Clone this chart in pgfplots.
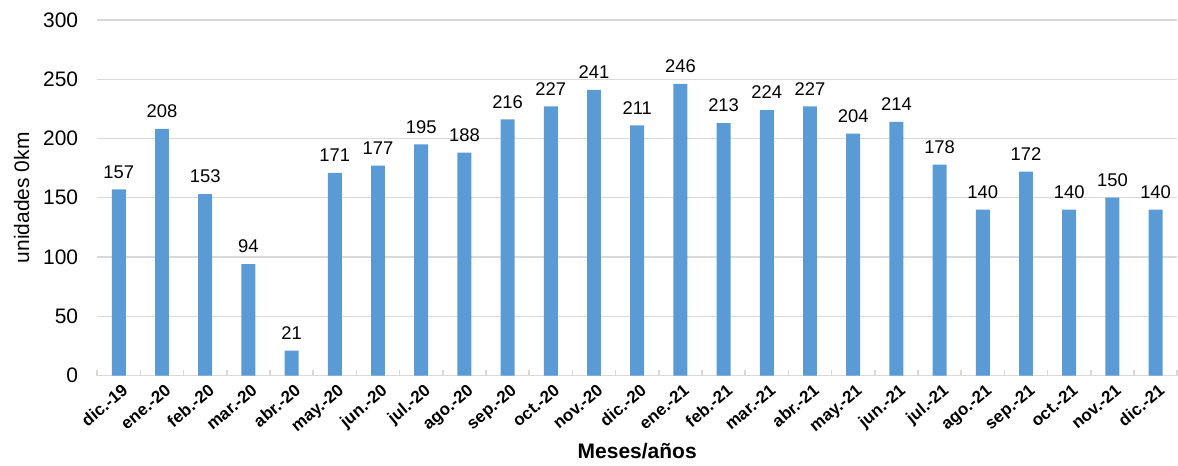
\documentclass[border=0pt]{standalone}
\usepackage{pgfplots}
\pgfplotsset{compat=1.18}
\usepackage{fontspec}
\setmainfont{Liberation Sans}
\definecolor{barblue}{HTML}{5B9BD5}
\definecolor{gridgray}{HTML}{D9D9D9}
\begin{document}
\begin{tikzpicture}
\begin{axis}[
  scale only axis,
  width=540.5pt, height=178pt,
  xmin=-0.5, xmax=24.5,
  ymin=0, ymax=300,
  ytick={0,50,...,300},
  xtick={0,...,24},
  xticklabels={dic.-19,ene.-20,feb.-20,mar.-20,abr.-20,may.-20,jun.-20,jul.-20,ago.-20,sep.-20,oct.-20,nov.-20,dic.-20,ene.-21,feb.-21,mar.-21,abr.-21,may.-21,jun.-21,jul.-21,ago.-21,sep.-21,oct.-21,nov.-21,dic.-21},
  minor xtick={-0.5,0.5,...,24.5},
  axis x line*=bottom,
  axis y line*=left,
  y axis line style={draw=none},
  x axis line style={gridgray, line width=0.8pt},
  ymajorgrids,
  grid style={gridgray, line width=0.6pt},
  major tick length=0pt,
  minor tick length=3pt,
  xtick style={draw=none},
  ytick style={draw=none},
  minor x tick style={draw=gridgray, line width=0.8pt},
  /pgf/number format/assume math mode=true,
  yticklabel style={font=\fontsize{10.5}{12}\selectfont, xshift=-6pt},
  xticklabel style={font=\fontsize{8.5}{10}\selectfont\bfseries, rotate=40, anchor=north east, inner sep=0.5pt, yshift=-3pt, xshift=-1pt},
  ylabel={unidades 0km},
  ylabel style={font=\fontsize{10.5}{12}\selectfont},
  xlabel={\textbf{Meses/años}},
  xlabel style={font=\fontsize{10.5}{12}\selectfont, yshift=0pt},
  clip=false,
  nodes near coords,
  every node near coord/.append style={font=\fontsize{9.2}{11}\selectfont, text=black, yshift=2pt},
]
\addplot[ybar, bar width=7pt, fill=barblue, draw=none] coordinates {
(0,157) (1,208) (2,153) (3,94) (4,21) (5,171) (6,177) (7,195) (8,188)
(9,216) (10,227) (11,241) (12,211) (13,246) (14,213) (15,224) (16,227)
(17,204) (18,214) (19,178) (20,140) (21,172) (22,140) (23,150) (24,140)
};
\path (rel axis cs:-0.09,1.056) (rel axis cs:1.0,-0.2353);
\end{axis}
\end{tikzpicture}
\end{document}
